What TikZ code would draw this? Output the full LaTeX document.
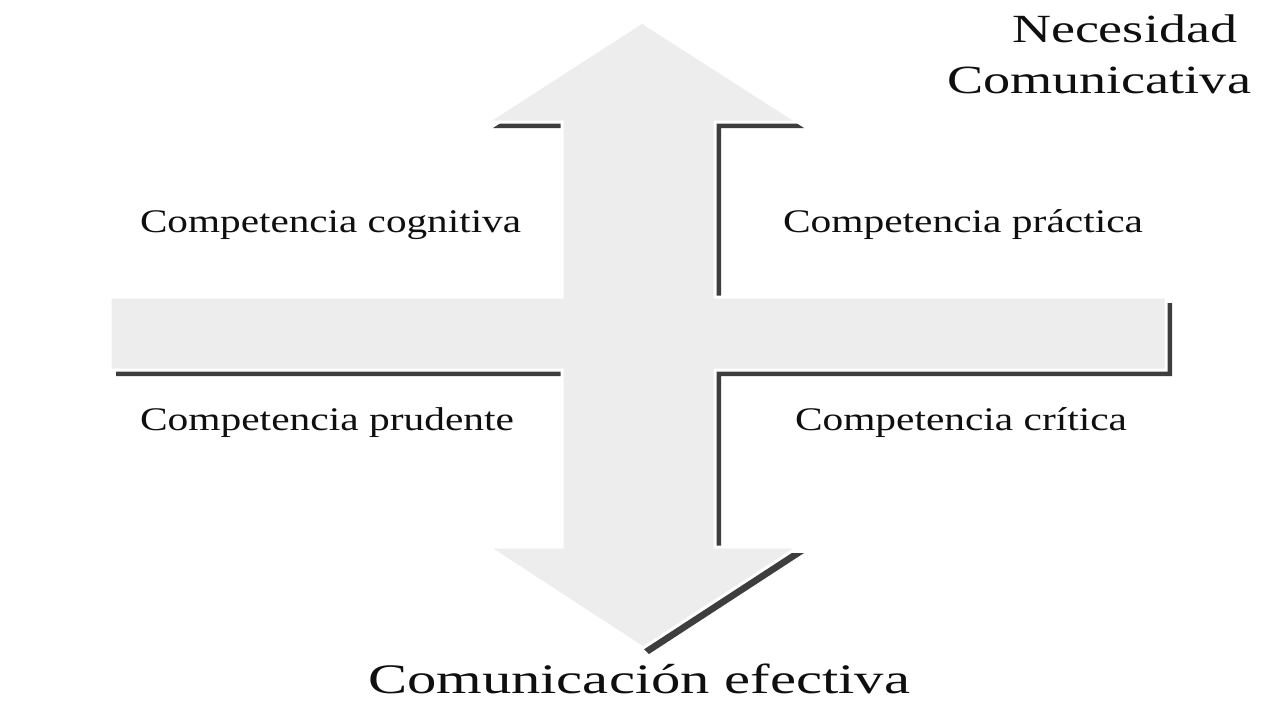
\documentclass[tikz,border=0pt]{standalone}
\usepackage{fontspec}
\setmainfont{Liberation Serif}
\usepackage{graphicx}
\definecolor{shapefill}{RGB}{237,237,237}
\definecolor{shadowcol}{RGB}{62,62,62}
\definecolor{txt}{RGB}{15,15,15}
\begin{document}
\begin{tikzpicture}[x=0.5pt,y=-0.5pt,
  lbl/.style={anchor=base west,inner sep=0pt,outer sep=0pt,text=txt,font=\fontsize{16.5}{18}\selectfont},
  big/.style={anchor=base west,inner sep=0pt,outer sep=0pt,text=txt,font=\fontsize{20}{22}\selectfont},
  bottomlbl/.style={anchor=base west,inner sep=0pt,outer sep=0pt,text=txt,font=\fontsize{21}{23}\selectfont}]
\useasboundingbox[fill=white] (0,0) rectangle (1280,720);
\def\crossshape{(642,22) -- (798,122) -- (715,122) -- (715,297) -- (1166,297) -- (1166,370) -- (715,370) -- (715,547) -- (798,547) -- (643,648) -- (488,547) -- (562,547) -- (562,370) -- (110,370) -- (110,297) -- (562,297) -- (562,122) -- (487,122) -- cycle}
% shadow (offset copy; its lower-left slant kept under the shape's edge)
\fill[shadowcol] (648,28) -- (804,128) -- (721,128) -- (721,303) -- (1172,303) -- (1172,376) -- (721,376) -- (721,553) -- (804,553) -- (649,654) -- (643,648) -- (488,547) -- (568,547) -- (568,376) -- (116,376) -- (116,303) -- (568,303) -- (568,128) -- (493,128) -- cycle;
% main shape
\filldraw[fill=shapefill,draw=white,line width=1.5pt] \crossshape;
% labels
\node[big] (nec) at (1012,42) {\resizebox{112.5pt}{\height}{Necesidad}};
\node[big] (com) at (947,93) {\resizebox{152pt}{\height}{Comunicativa}};
\node[lbl] (cog) at (140,232) {\resizebox{190.5pt}{\height}{Competencia cognitiva}};
\node[lbl] (pra) at (783,232) {\resizebox{180pt}{\height}{Competencia práctica}};
\node[lbl] (pru) at (140,430) {\resizebox{187pt}{\height}{Competencia prudente}};
\node[lbl] (cri) at (795,430) {\resizebox{166pt}{\height}{Competencia crítica}};
\node[bottomlbl] (efe) at (368,693) {\resizebox{271pt}{\height}{Comunicación efectiva}};
\end{tikzpicture}
\end{document}
